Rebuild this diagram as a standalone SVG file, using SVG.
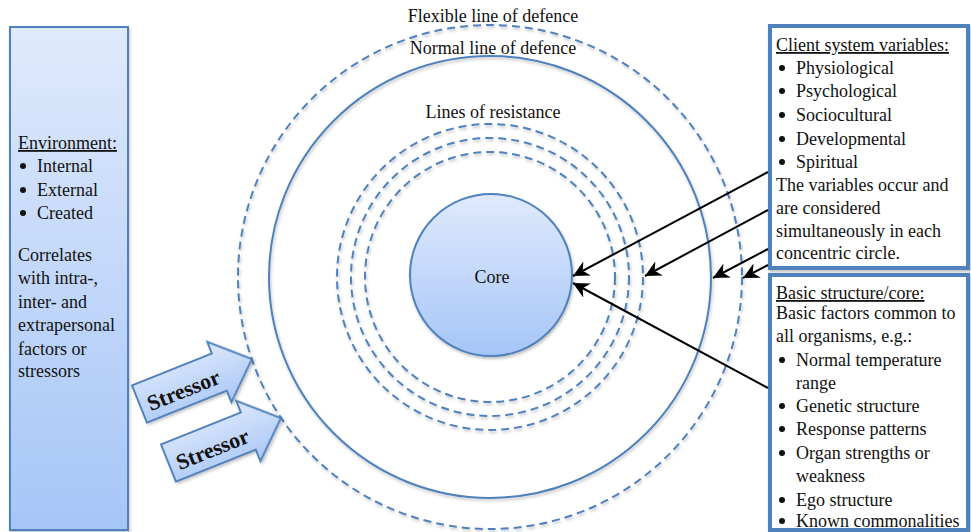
<svg xmlns="http://www.w3.org/2000/svg" width="971" height="532" viewBox="0 0 971 532">
<defs>
<linearGradient id="blueGrad" x1="0" y1="0" x2="0" y2="1">
<stop offset="0" stop-color="#dfeafc"/>
<stop offset="1" stop-color="#a6c5f7"/>
</linearGradient>
<linearGradient id="arrowGrad" x1="0" y1="0" x2="0" y2="1">
<stop offset="0" stop-color="#dce8fc"/>
<stop offset="1" stop-color="#a9c7f6"/>
</linearGradient>
<filter id="shadow" x="-10%" y="-10%" width="120%" height="120%">
<feDropShadow dx="1" dy="2" stdDeviation="1.5" flood-color="#000" flood-opacity="0.25"/>
</filter>
<marker id="arrowhead" markerUnits="userSpaceOnUse" markerWidth="18" markerHeight="16" refX="16" refY="8" orient="auto">
<path d="M0,0 L16,8 L0,16 L5,8 Z" fill="#000"/>
</marker>
<style>
text { font-family: "Liberation Serif", "Times New Roman", serif; font-size: 18px; fill: #111; }
.dot { fill: #111; }
.ring { fill: none; stroke: #4f81bd; stroke-width: 2; }
.dash { stroke-dasharray: 8 5; }
.box { fill: #fff; stroke: #4f81bd; stroke-width: 4; }
.conn { stroke: #000; stroke-width: 2; fill: none; marker-end: url(#arrowhead); }
.stressor { fill: url(#arrowGrad); stroke: #4f81bd; stroke-width: 2; }
.st { font-weight: bold; font-size: 22px; }
.u { text-decoration: underline; }
.mid { text-anchor: middle; }
</style>
</defs>

<g id="environment">
<rect x="10" y="27" width="118" height="503" fill="url(#blueGrad)" stroke="#4f81bd" stroke-width="2" filter="url(#shadow)"/>
<text x="18" y="149" class="u">Environment:</text>
<circle cx="23" cy="166" r="3" class="dot"/><text x="37" y="172">Internal</text>
<circle cx="23" cy="190" r="3" class="dot"/><text x="37" y="196">External</text>
<circle cx="23" cy="213" r="3" class="dot"/><text x="37" y="219">Created</text>
<text x="18" y="261">Correlates</text>
<text x="18" y="284">with intra-,</text>
<text x="18" y="308">inter- and</text>
<text x="18" y="331">extrapersonal</text>
<text x="18" y="355">factors or</text>
<text x="18" y="377">stressors</text>
</g>

<g id="flexible-line" filter="url(#shadow)">
<circle cx="490" cy="277" r="252" class="ring dash"/>
</g>
<g id="normal-line" filter="url(#shadow)">
<circle cx="490" cy="277" r="221" class="ring"/>
</g>
<g id="lines-of-resistance" filter="url(#shadow)">
<circle cx="490" cy="277" r="153" class="ring dash"/>
<circle cx="490" cy="277" r="139" class="ring dash"/>
<circle cx="490" cy="277" r="125" class="ring dash"/>
</g>
<g id="core">
<circle cx="491" cy="275" r="81" fill="url(#blueGrad)" stroke="#4f81bd" stroke-width="2" filter="url(#shadow)"/>
<text x="492" y="283" class="mid">Core</text>
</g>

<g id="labels">
<text x="493" y="22" class="mid">Flexible line of defence</text>
<text x="493" y="54" class="mid">Normal line of defence</text>
<text x="493" y="118" class="mid">Lines of resistance</text>
</g>

<g id="stressor-1">
<g transform="translate(139.5,404) rotate(-21.8)">
<path d="M0,-20 L86,-20 L86,-32.5 L121,0 L86,32.5 L86,20 L0,20 Z" class="stressor" filter="url(#shadow)"/>
<text x="46" y="11" class="st mid">Stressor</text>
</g>
</g>
<g id="stressor-2">
<g transform="translate(168.5,463) rotate(-21.8)">
<path d="M0,-20 L86,-20 L86,-32.5 L121,0 L86,32.5 L86,20 L0,20 Z" class="stressor" filter="url(#shadow)"/>
<text x="46" y="11" class="st mid">Stressor</text>
</g>
</g>

<g id="client-system-variables">
<rect x="770" y="26" width="198" height="242" class="box" filter="url(#shadow)"/>
<text x="776" y="51" class="u">Client system variables:</text>
<circle cx="782" cy="68" r="3" class="dot"/><text x="796" y="74">Physiological</text>
<circle cx="782" cy="91" r="3" class="dot"/><text x="796" y="97">Psychological</text>
<circle cx="782" cy="115" r="3" class="dot"/><text x="796" y="121">Sociocultural</text>
<circle cx="782" cy="139" r="3" class="dot"/><text x="796" y="145">Developmental</text>
<circle cx="782" cy="162" r="3" class="dot"/><text x="796" y="168">Spiritual</text>
<text x="776" y="191">The variables occur and</text>
<text x="776" y="214">are considered</text>
<text x="776" y="237">simultaneously in each</text>
<text x="776" y="259">concentric circle.</text>
</g>

<g id="basic-structure">
<rect x="770" y="275" width="198" height="255" class="box" filter="url(#shadow)"/>
<text x="776" y="299" class="u">Basic structure/core:</text>
<text x="776" y="319">Basic factors common to</text>
<text x="776" y="342">all organisms, e.g.:</text>
<circle cx="782" cy="360" r="3" class="dot"/><text x="796" y="366">Normal temperature</text>
<text x="796" y="389">range</text>
<circle cx="782" cy="406" r="3" class="dot"/><text x="796" y="412">Genetic structure</text>
<circle cx="782" cy="429" r="3" class="dot"/><text x="796" y="435">Response patterns</text>
<circle cx="782" cy="453" r="3" class="dot"/><text x="796" y="459">Organ strengths or</text>
<text x="796" y="482">weakness</text>
<circle cx="782" cy="500" r="3" class="dot"/><text x="796" y="506">Ego structure</text>
<circle cx="782" cy="521" r="3" class="dot"/><text x="796" y="527">Known commonalities</text>
</g>

<g id="connectors">
<line x1="768" y1="172" x2="573" y2="276" class="conn"/>
<line x1="768" y1="210" x2="645" y2="276" class="conn"/>
<line x1="768" y1="249" x2="713" y2="278" class="conn"/>
<line x1="768" y1="265" x2="743" y2="278" class="conn"/>
<line x1="768" y1="388" x2="573" y2="283" class="conn"/>
</g>
</svg>
